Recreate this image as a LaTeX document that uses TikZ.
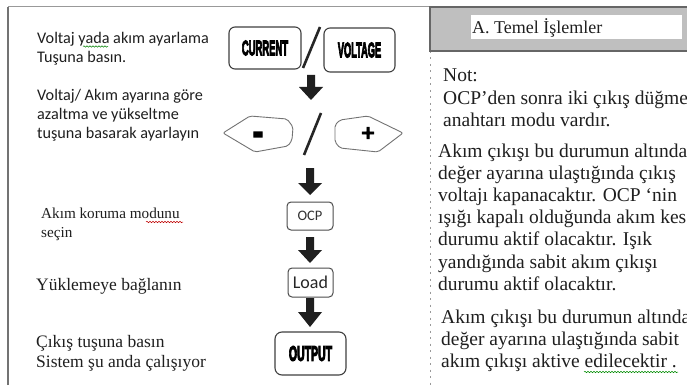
\documentclass[tikz,border=0pt]{standalone}
\usepackage{graphicx}
\usepackage{fontspec}
\setmainfont{Liberation Serif}
\newfontfamily\calfont{Carlito}
\newfontfamily\heavyfont{Liberation Sans Bold}[FakeBold=6]
\newfontfamily\symfont{DejaVu Sans Bold}[FakeBold=5]
\usetikzlibrary{decorations.pathmorphing}
\newcommand\btnlbl[2]{\scalebox{#1}[1]{\heavyfont\fontsize{21}{21}\selectfont #2}}
\newcommand\blockarrow[4]{\fill[blockarr] (#1-4,#2) -- (#1+4,#2) -- (#1+4,#3) -- (#1+12,#3) -- (#1,#4) -- (#1-12,#3) -- (#1-4,#3) -- cycle;}
\begin{document}
\begin{tikzpicture}[x=1pt,y=-1pt,
  lefttxt/.style={anchor=base west,inner sep=0pt,font=\calfont\fontsize{16.2}{18}\selectfont,text=black!88},
  serleft/.style={anchor=base west,inner sep=0pt,font=\fontsize{17.5}{20}\selectfont,text=black!88},
  righttxt/.style={anchor=base west,inner sep=0pt,font=\fontsize{19.5}{22}\selectfont,text=black!88},
  button/.style={draw=black!75,line width=1.1pt,rounded corners=6pt,inner sep=0pt,fill=white},
  smallbox/.style={draw=black!70,line width=1pt,rounded corners=4pt,inner sep=0pt,fill=white,font=\calfont,text=black!80},
  keyshape/.style={draw=black!55,line width=0.9pt,rounded corners=2pt},
  slash/.style={line width=2.6pt,black!85},
  blockarr/.style={fill=black!88},
  wavy/.style={decorate,decoration={snake,segment length=3pt,amplitude=0.7pt},line width=0.5pt},
]
\useasboundingbox (0,0) rectangle (687,385);
\clip (0,0) rectangle (687,385);
\fill[white] (0,0) rectangle (687,385);
% frame
\draw[black!40,line width=1pt] (8,7) -- (687,7);
\draw[black!55,line width=1.3pt] (8,385) -- (8,7);
\draw[black!40,line width=0.8pt,dash pattern=on 2pt off 4.5pt] (430,51) -- (430,385);
% header
\filldraw[fill=black!25,draw=black!60,line width=1.6pt] (430,7) rectangle (700,51);
\fill[white] (471,15) rectangle (682,39);
\node[righttxt,font=\fontsize{18}{20}\selectfont] (hdr) at (472,34) {A. Temel İşlemler};
% left texts
\node[lefttxt] (t1) at (37,44) {Voltaj yada akım ayarlama};
\node[lefttxt] (t2) at (37,63) {Tuşuna basın.};
\node[lefttxt] (t3) at (37,101) {Voltaj/ Akım ayarına göre};
\node[lefttxt] (t4) at (37,120) {azaltma ve yükseltme};
\node[lefttxt] (t5) at (37,139) {tuşuna basarak ayarlayın};
\node[serleft,font=\fontsize{15.2}{18}\selectfont] (t6) at (41,218) {Akım koruma modunu};
\node[serleft,font=\fontsize{15.2}{18}\selectfont] (t7) at (41,237) {seçin};
\node[serleft] (t8) at (36,290) {Yüklemeye bağlanın};
\node[serleft] (t9) at (36,347) {Çıkış tuşuna basın};
\node[serleft] (t10) at (36,367) {Sistem şu anda çalışıyor};
\draw[wavy,green!50!black] (83,46.5) -- (108,46.5);
\draw[wavy,red!75!black] (146,222) -- (183,222);
% right texts
\node[righttxt] (r1) at (443,82) {Not:};
\node[righttxt] (r2) at (443,104) {OCP’den sonra iki çıkış düğme};
\node[righttxt] (r3) at (443,126) {anahtarı modu vardır.};
\node[righttxt] (r4) at (438,157) {Akım çıkışı bu durumun altında};
\node[righttxt] (r5) at (438,179) {değer ayarına ulaştığında çıkış};
\node[righttxt] (r6) at (438,201) {voltajı kapanacaktır. OCP ‘nin};
\node[righttxt] (r7) at (438,223) {ışığı kapalı olduğunda akım kes};
\node[righttxt] (r8) at (438,245) {durumu aktif olacaktır. Işık};
\node[righttxt] (r9) at (438,268) {yandığında sabit akım çıkışı};
\node[righttxt] (r10) at (438,290) {durumu aktif olacaktır.};
\node[righttxt] (r11) at (441,323) {Akım çıkışı bu durumun altında};
\node[righttxt] (r12) at (441,345) {değer ayarına ulaştığında sabit};
\node[righttxt] (r13) at (441,367) {akım çıkışı aktive edilecektir .};
\draw[wavy,green!55!black] (584,372) -- (678,372);
% buttons
\node[button,minimum width=72pt,minimum height=42pt] (current) at (265,48) {\btnlbl{0.45}{CURRENT}};
\node[button,minimum width=71pt,minimum height=44pt] (voltage) at (359.5,50) {\btnlbl{0.44}{VOLTAGE}};
\draw[slash] (320,27) -- (303,68);
\blockarrow{311}{75}{87}{100}
% keys
\draw[keyshape] (223,133) -- (250,116) -- (287,119) -- (293,127) -- (292,140) -- (288,146) -- (255,152) -- cycle;
\draw[keyshape] (335,125) -- (340,120) -- (368,116) -- (403,133) -- (378,152) -- (340,148) -- (335,142) -- cycle;
\node[inner sep=0pt,font=\symfont\fontsize{18}{18}\selectfont] (minus) at (258,137.5) {\vphantom{+}\raisebox{-6.5pt}{\scalebox{0.75}[2.1]{−}}};
\node[inner sep=0pt,font=\symfont\fontsize{18}{18}\selectfont] (plus) at (368,133) {+};
\draw[slash] (321,113) -- (304,155);
\blockarrow{310}{168}{183}{195}
% OCP / Load / OUTPUT
\node[smallbox,minimum width=46pt,minimum height=28pt,font=\calfont\fontsize{14.5}{15}\selectfont] (ocp) at (310,216) {OCP};
\blockarrow{310}{237}{250}{263}
\node[smallbox,minimum width=45pt,minimum height=29pt,font=\calfont\fontsize{18}{18}\selectfont,text=black!85] (load) at (310.5,282.5) {Load};
\blockarrow{310}{298}{312}{327}
\node[button,minimum width=71pt,minimum height=43pt,rounded corners=7pt] (output) at (310.5,353.5) {\btnlbl{0.5}{OUTPUT}};
\end{tikzpicture}
\end{document}
